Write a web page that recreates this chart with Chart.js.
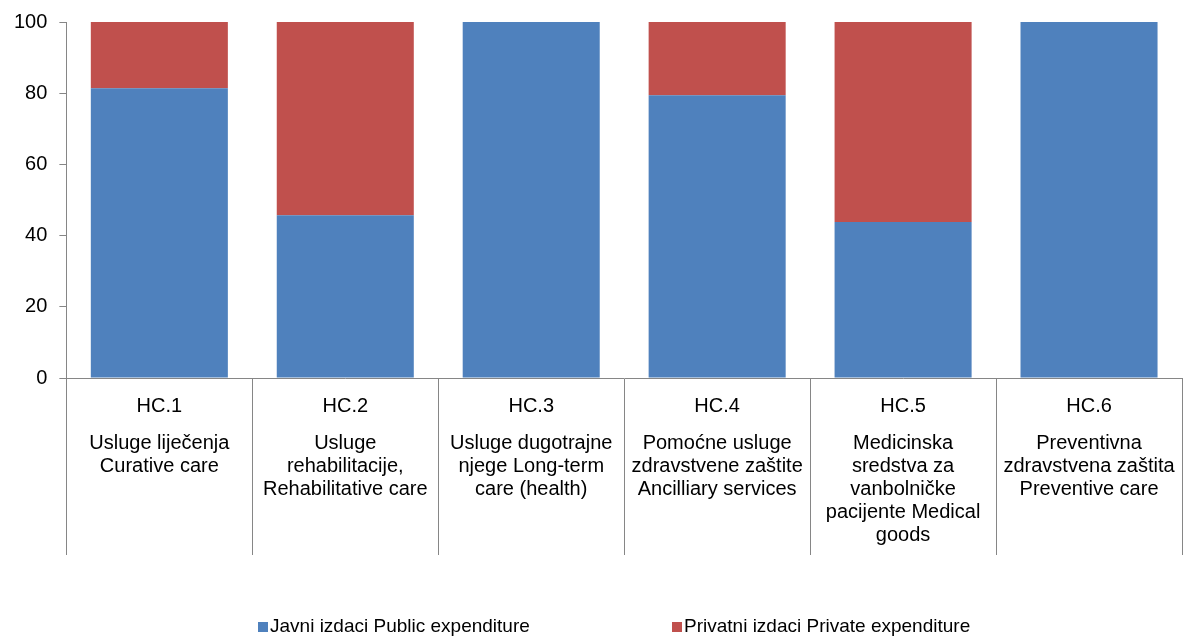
<!DOCTYPE html>
<html>
<head>
<meta charset="utf-8">
<script src="https://cdn.jsdelivr.net/npm/chart.js@4/dist/chart.umd.min.js"></script>
<style>
  html, body { margin: 0; padding: 0; background: #fff; }
  #wrap { width: 1183px; height: 636px; position: relative; }
</style>
</head>
<body>
<div id="wrap"><canvas id="c" width="1183" height="636"></canvas></div>
<script>
const categoryCodes = ['HC.1', 'HC.2', 'HC.3', 'HC.4', 'HC.5', 'HC.6'];
const categoryDescriptions = [
  ['Usluge liječenja', 'Curative care'],
  ['Usluge', 'rehabilitacije,', 'Rehabilitative care'],
  ['Usluge dugotrajne', 'njege Long-term', 'care (health)'],
  ['Pomoćne usluge', 'zdravstvene zaštite', 'Ancilliary services'],
  ['Medicinska', 'sredstva za', 'vanbolničke', 'pacijente Medical', 'goods'],
  ['Preventivna', 'zdravstvena zaštita', 'Preventive care']
];
const publicValues = [81.4, 45.7, 100, 79.4, 43.8, 100];
const privateValues = [18.6, 54.3, 0, 20.6, 56.2, 0];
const seriesNames = ['Javni izdaci Public expenditure', 'Privatni izdaci Private expenditure'];
const yTicks = [0, 20, 40, 60, 80, 100];

const FONT = '"Liberation Sans", Arial, sans-serif';
const BLUE = '#4F81BD';
const RED = '#C0504D';
const AXIS = '#868686';

const labelPlugin = {
  id: 'catLabels',
  afterDraw(chart) {
    const ctx = chart.ctx;
    const x = chart.scales.x;
    const bottom = chart.chartArea.bottom;
    ctx.save();
    ctx.fillStyle = '#000';
    ctx.font = '20px ' + FONT;
    ctx.textAlign = 'center';
    ctx.textBaseline = 'middle';
    categoryCodes.forEach((code, i) => {
      const px = x.getPixelForValue(i);
      ctx.fillText(code, px, bottom + 28);
      categoryDescriptions[i].forEach((line, j) => {
        ctx.fillText(line, px, bottom + 65 + j * 23);
      });
    });
    // legend
    const colors = [BLUE, RED];
    const boxX = [258, 672];
    const ly = 627;
    ctx.font = '19px ' + FONT;
    ctx.textAlign = 'left';
    seriesNames.forEach((name, i) => {
      ctx.fillStyle = colors[i];
      ctx.fillRect(boxX[i], ly - 5, 10, 10);
      ctx.fillStyle = '#000';
      ctx.fillText(name, boxX[i] + 12, ly);
    });
    ctx.restore();
  }
};

new Chart(document.getElementById('c'), {
  type: 'bar',
  data: {
    labels: categoryCodes,
    datasets: [
      { label: seriesNames[0], data: publicValues, backgroundColor: BLUE, borderWidth: 0,
        categoryPercentage: 1, barPercentage: 0.737 },
      { label: seriesNames[1], data: privateValues, backgroundColor: RED, borderWidth: 0,
        categoryPercentage: 1, barPercentage: 0.737 }
    ]
  },
  options: {
    responsive: false,
    animation: false,
    layout: { padding: { top: 21, left: 2, right: 1, bottom: 81 } },
    plugins: {
      legend: { display: false },
      tooltip: { enabled: false },
      title: { display: false }
    },
    scales: {
      x: {
        stacked: true,
        offset: true,
        ticks: { display: false },
        grid: { offset: true, drawOnChartArea: false, tickLength: 177, color: AXIS, lineWidth: 1 },
        border: { display: true, color: AXIS, width: 1 }
      },
      y: {
        stacked: true,
        min: 0,
        max: 100,
        afterBuildTicks(scale) { scale.ticks = yTicks.map(v => ({ value: v })); },
        ticks: { color: '#000', font: { family: FONT, size: 20, lineHeight: 1 }, padding: 12 },
        grid: { drawOnChartArea: false, tickLength: 7, color: AXIS },
        border: { display: true, color: AXIS, width: 1 }
      }
    }
  },
  plugins: [labelPlugin]
});
</script>
</body>
</html>
